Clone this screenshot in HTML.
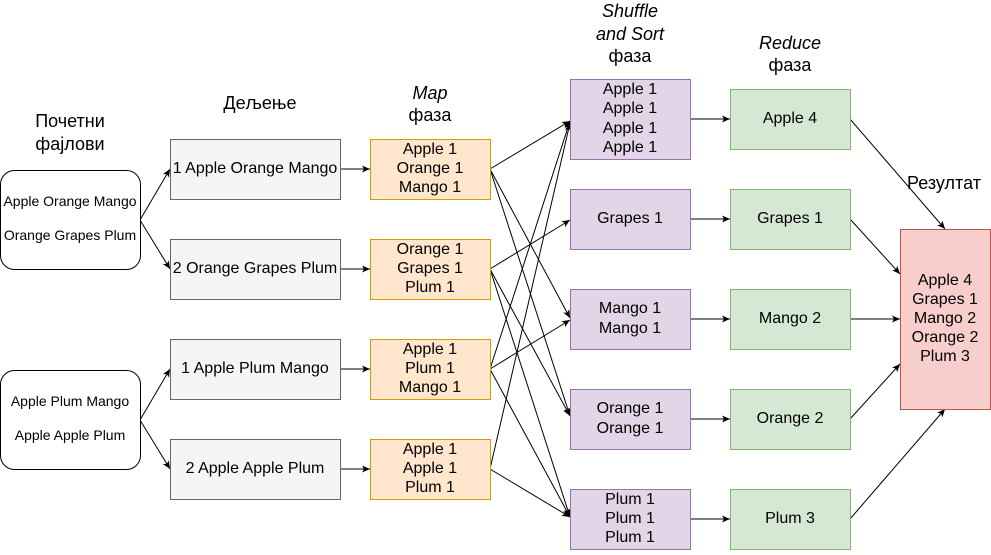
<!DOCTYPE html>
<html><head><meta charset="utf-8"><style>
body{margin:0;background:#fff}
text{font-family:"Liberation Sans",sans-serif;font-size:16px;fill:#000}
.h{font-size:18px}
.s{font-size:14px}
</style></head><body>
<svg width="991" height="550" viewBox="0 0 991 550" xmlns="http://www.w3.org/2000/svg">
<defs><marker id="a" markerWidth="10" markerHeight="10" refX="9" refY="5" orient="auto" markerUnits="userSpaceOnUse"><path d="M1,1.5 L9,5 L1,8.5 L3,5 Z" fill="#000"/></marker></defs>
<g fill="none" stroke="#000" stroke-width="1" marker-end="url(#a)">
<line x1="140" y1="220" x2="170" y2="169"/>
<line x1="140" y1="220" x2="170" y2="269"/>
<line x1="140" y1="420" x2="170" y2="369"/>
<line x1="140" y1="420" x2="170" y2="469"/>
<line x1="340" y1="169" x2="370" y2="169"/>
<line x1="340" y1="269" x2="370" y2="269"/>
<line x1="340" y1="369" x2="370" y2="369"/>
<line x1="340" y1="469" x2="370" y2="469"/>
<line x1="490" y1="169" x2="570" y2="121"/>
<line x1="490" y1="169" x2="570" y2="318"/>
<line x1="490" y1="169" x2="570" y2="416"/>
<line x1="490" y1="269" x2="570" y2="220"/>
<line x1="490" y1="269" x2="570" y2="416"/>
<line x1="490" y1="269" x2="570" y2="517"/>
<line x1="490" y1="369" x2="570" y2="121"/>
<line x1="490" y1="369" x2="570" y2="320"/>
<line x1="490" y1="369" x2="570" y2="517"/>
<line x1="490" y1="469" x2="570" y2="123"/>
<line x1="490" y1="469" x2="570" y2="517"/>
<line x1="690" y1="119" x2="730" y2="119"/>
<line x1="690" y1="219" x2="730" y2="219"/>
<line x1="690" y1="319" x2="730" y2="319"/>
<line x1="690" y1="419" x2="730" y2="419"/>
<line x1="690" y1="519" x2="730" y2="519"/>
<line x1="850" y1="119" x2="945" y2="229"/>
<line x1="850" y1="219" x2="900" y2="274"/>
<line x1="850" y1="319" x2="900" y2="319"/>
<line x1="850" y1="419" x2="900" y2="364"/>
<line x1="850" y1="519" x2="945" y2="409"/>
</g>
<g stroke-width="1">
<rect x="0.5" y="170.5" width="140" height="99" rx="14" fill="#fff" stroke="#000"/>
<rect x="0.5" y="370.5" width="140" height="99" rx="14" fill="#fff" stroke="#000"/>
<g fill="#f5f5f5" stroke="#666">
<rect x="170.5" y="139.5" width="170" height="60"/><rect x="170.5" y="239.5" width="170" height="60"/>
<rect x="170.5" y="339.5" width="170" height="60"/><rect x="170.5" y="439.5" width="170" height="60"/></g>
<g fill="#ffe6cc" stroke="#d79b00">
<rect x="370.5" y="139.5" width="120" height="60"/><rect x="370.5" y="239.5" width="120" height="60"/>
<rect x="370.5" y="339.5" width="120" height="60"/><rect x="370.5" y="439.5" width="120" height="60"/></g>
<g fill="#e1d5e7" stroke="#9673a6">
<rect x="570.5" y="79.5" width="120" height="80"/><rect x="570.5" y="189.5" width="120" height="60"/>
<rect x="570.5" y="289.5" width="120" height="60"/><rect x="570.5" y="389.5" width="120" height="60"/>
<rect x="570.5" y="489.5" width="120" height="60"/></g>
<g fill="#d5e8d4" stroke="#82b366">
<rect x="730.5" y="89.5" width="120" height="60"/><rect x="730.5" y="189.5" width="120" height="60"/>
<rect x="730.5" y="289.5" width="120" height="60"/><rect x="730.5" y="389.5" width="120" height="60"/>
<rect x="730.5" y="489.5" width="120" height="60"/></g>
<rect x="900.5" y="229.5" width="90" height="180" fill="#f8cecc" stroke="#b85450"/>
</g>
<g text-anchor="middle">
<text class="h" x="70" y="127">Почетни</text>
<text class="h" x="70" y="150">фајлови</text>
<text class="h" x="260" y="109">Дељење</text>
<text class="h" x="430" y="99" font-style="italic">Map</text>
<text class="h" x="430" y="121">фаза</text>
<text class="h" x="630" y="17" font-style="italic">Shuffle</text>
<text class="h" x="630" y="40" font-style="italic">and Sort</text>
<text class="h" x="630" y="62">фаза</text>
<text class="h" x="790" y="49" font-style="italic">Reduce</text>
<text class="h" x="790" y="71">фаза</text>
<text class="h" x="944" y="189">Резултат</text>
<text class="s" x="70" y="206">Apple Orange Mango</text>
<text class="s" x="70" y="240">Orange Grapes Plum</text>
<text class="s" x="70" y="406">Apple Plum Mango</text>
<text class="s" x="70" y="440">Apple Apple Plum</text>
<text x="255" y="173">1 Apple Orange Mango</text>
<text x="255" y="273">2 Orange Grapes Plum</text>
<text x="255" y="373">1 Apple Plum Mango</text>
<text x="255" y="473">2 Apple Apple Plum</text>
<text x="430" y="154">Apple 1</text><text x="430" y="173">Orange 1</text><text x="430" y="192">Mango 1</text>
<text x="430" y="254">Orange 1</text><text x="430" y="273">Grapes 1</text><text x="430" y="292">Plum 1</text>
<text x="430" y="354">Apple 1</text><text x="430" y="373">Plum 1</text><text x="430" y="392">Mango 1</text>
<text x="430" y="454">Apple 1</text><text x="430" y="473">Apple 1</text><text x="430" y="492">Plum 1</text>
<text x="630" y="94">Apple 1</text><text x="630" y="113">Apple 1</text><text x="630" y="133">Apple 1</text><text x="630" y="152">Apple 1</text>
<text x="630" y="223">Grapes 1</text>
<text x="630" y="313">Mango 1</text><text x="630" y="333">Mango 1</text>
<text x="630" y="413">Orange 1</text><text x="630" y="433">Orange 1</text>
<text x="630" y="504">Plum 1</text><text x="630" y="523">Plum 1</text><text x="630" y="542">Plum 1</text>
<text x="790" y="123">Apple 4</text><text x="790" y="223">Grapes 1</text><text x="790" y="323">Mango 2</text>
<text x="790" y="423">Orange 2</text><text x="790" y="523">Plum 3</text>
<text x="945" y="285">Apple 4</text><text x="945" y="304">Grapes 1</text><text x="945" y="323">Mango 2</text>
<text x="945" y="342">Orange 2</text><text x="945" y="361">Plum 3</text>
</g>
</svg>
</body></html>
